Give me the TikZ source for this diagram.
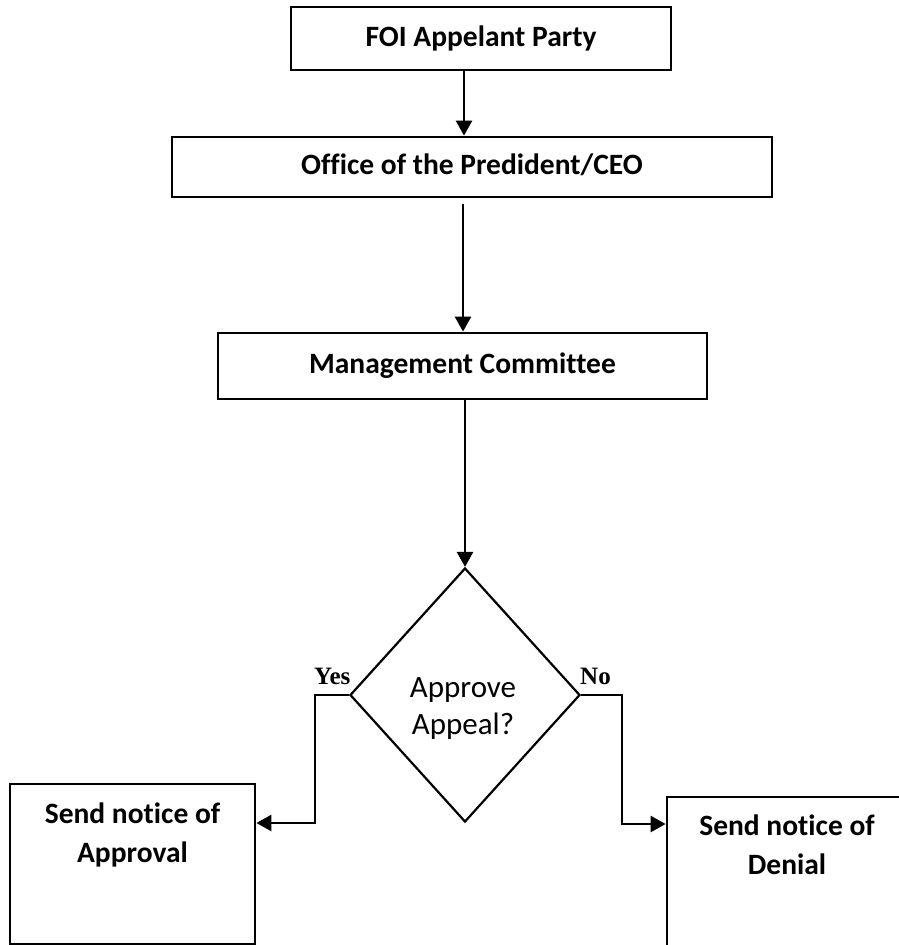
\documentclass[tikz,border=0pt]{standalone}
\usepackage{fontspec}
\setmainfont{Carlito}[Ligatures=NoCommon]
\newfontfamily\labelfont{Liberation Serif}
\usetikzlibrary{shapes.geometric,arrows.meta}
\begin{document}
\begin{tikzpicture}[x=1pt,y=-1pt,
  procbox/.style={draw, line width=2.8pt, rectangle, inner sep=0pt,
    font=\bfseries\fontsize{29.5}{39}\selectfont, text height=18.5pt, text depth=3pt},
  endbox/.style={draw, line width=2.8pt, rectangle, inner sep=0pt},
  boxtext/.style={font=\bfseries\fontsize{29.5}{39}\selectfont, align=center, anchor=north},
  arr/.style={line width=2.6pt, -{Triangle[width=16pt,length=15pt]}},
  lbl/.style={font=\labelfont\bfseries\fontsize{25}{27}\selectfont, anchor=base west, inner sep=0pt}]
\useasboundingbox (0,0) rectangle (898,945);

\node[procbox, minimum width=380pt, minimum height=63pt] (foi) at (481,38.5) {FOI Appelant Party};
\node[procbox, minimum width=600pt, minimum height=60pt] (pres) at (472,167) {Office of the Predident/CEO};
\node[procbox, minimum width=489pt, minimum height=66pt] (mgmt) at (462.5,366) {Management Committee};

\node[draw, diamond, line width=2.2pt, minimum width=230pt, minimum height=254pt, inner sep=0pt] (dec) at (465,695) {};
\node[font=\fontsize{31}{37}\selectfont, align=center] (dectext) at (463,709) {Approve\\Appeal?};

\node[endbox, minimum width=245pt, minimum height=160pt] (appr) at (132.5,864) {};
\node[boxtext] (apprtext) at ([yshift=-17pt]appr.north) {Send notice of\\Approval};

\node[endbox, minimum width=270pt, minimum height=170pt] (deny) at (802,882) {};
\coordinate (dtop) at (787,797);
\node[boxtext] (denytext) at ([yshift=-14pt]dtop) {Send notice of\\Denial};

\node[lbl] (yes) at (314,684) {Yes};
\node[lbl] (no) at (580,684) {No};

\coordinate (c1) at (464,0);
\coordinate (c2) at (463,0);
\coordinate (yc) at (315,823);
\coordinate (nc) at (622,824);

\draw[arr] (foi.south -| c1) -- (pres.north -| c1);
\draw[arr] (pres.south -| c2) ++(0,6) -- (mgmt.north -| c2);
\draw[arr] (mgmt.south -| dec.north) -- (dec.north);
\draw[arr] (dec.west) -| (yc) -- (appr.east |- yc);
\draw[arr] (dec.east) -| (nc) -- (deny.west |- nc);
\end{tikzpicture}
\end{document}
